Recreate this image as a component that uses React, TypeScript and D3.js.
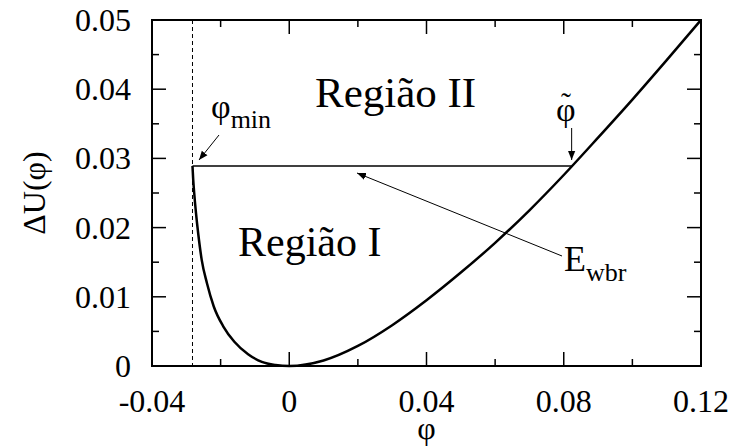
import { useEffect, useRef } from 'react'
import * as d3 from 'd3'

// ΔU(φ) curve
const PHI = [-0.0282, -0.028, -0.0277, -0.0272, -0.0265, -0.0255, -0.024, -0.022, -0.0192, -0.016, -0.012, -0.008, -0.004, 0,
  0.01, 0.02, 0.03, 0.04, 0.05, 0.06, 0.07, 0.08, 0.09, 0.1, 0.11, 0.12]
const DU = [0.0289, 0.027, 0.025, 0.0222, 0.019, 0.0153, 0.012, 0.0086, 0.0057, 0.0035, 0.0017, 0.0006, 0.00015, 0,
  0.0008, 0.0029, 0.0059, 0.0095, 0.0135, 0.0178, 0.0225, 0.0276, 0.033, 0.0385, 0.0442, 0.05]

const PHI_MIN = -0.0282
const PHI_TILDE = 0.0823
const E_WBR = 0.0289

const X_TICKS = [-0.04, 0, 0.04, 0.08, 0.12]
const X_MINOR = [-0.02, 0.02, 0.06, 0.1]
const Y_TICKS = [0, 0.01, 0.02, 0.03, 0.04, 0.05]
const Y_MINOR = [0.005, 0.015, 0.025, 0.035, 0.045]

const FONT = "'Liberation Serif', 'DejaVu Serif', serif"

export default function App() {
  const svgRef = useRef<SVGSVGElement>(null)

  useEffect(() => {
    const svg = d3.select(svgRef.current)
    svg.selectAll('*').remove()

    const margin = { top: 20, right: 35, bottom: 82, left: 152 }
    const W = 736 - margin.left - margin.right
    const H = 448 - margin.top - margin.bottom

    const x = d3.scaleLinear().domain([-0.04, 0.12]).range([0, W])
    const y = d3.scaleLinear().domain([0, 0.05]).range([H, 0])

    const defs = svg.append('defs')
    defs.append('marker').attr('id', 'ah').attr('viewBox', '0 0 10 10')
      .attr('refX', 10).attr('refY', 5).attr('markerWidth', 9).attr('markerHeight', 9)
      .attr('markerUnits', 'userSpaceOnUse').attr('orient', 'auto')
      .append('path').attr('d', 'M0,1 L10,5 L0,9 Z').attr('fill', '#000')

    const g = svg.append('g').attr('transform', `translate(${margin.left},${margin.top})`)

    // ticks, inward on all four sides
    const tick = (sel: any) => sel.attr('stroke', '#000').attr('stroke-width', 1.5)
    X_TICKS.concat(X_MINOR).forEach(v => {
      const len = X_TICKS.includes(v) ? 14 : 7
      tick(g.append('line').attr('x1', x(v)).attr('x2', x(v)).attr('y1', H).attr('y2', H - len))
      tick(g.append('line').attr('x1', x(v)).attr('x2', x(v)).attr('y1', 0).attr('y2', len))
    })
    Y_TICKS.concat(Y_MINOR).forEach(v => {
      const len = Y_TICKS.includes(v) ? 14 : 7
      tick(g.append('line').attr('y1', y(v)).attr('y2', y(v)).attr('x1', 0).attr('x2', len))
      tick(g.append('line').attr('y1', y(v)).attr('y2', y(v)).attr('x1', W).attr('x2', W - len))
    })

    g.append('rect').attr('width', W).attr('height', H)
      .attr('fill', 'none').attr('stroke', '#000').attr('stroke-width', 2)

    // tick labels
    g.selectAll('.xl').data(X_TICKS).join('text')
      .attr('x', d => x(d)).attr('y', H + 46)
      .attr('text-anchor', 'middle').attr('font-size', 32).style('font-family', FONT)
      .text(d => d === 0 ? '0' : String(d))
    g.selectAll('.yl').data(Y_TICKS).join('text')
      .attr('x', -21).attr('y', d => y(d) + 11)
      .attr('text-anchor', 'end').attr('font-size', 32).style('font-family', FONT)
      .text(d => d === 0 ? '0' : d.toFixed(2))

    // axis titles
    g.append('text').attr('x', W / 2).attr('y', H + 73).style('font-family', FONT)
      .attr('text-anchor', 'middle').attr('font-size', 32).text('φ')
    g.append('text').attr('transform', `translate(${-107},${H / 2}) rotate(-90)`).style('font-family', FONT)
      .attr('text-anchor', 'middle').attr('font-size', 32).text('ΔU(φ)')

    // dashed φ_min line
    g.append('line').attr('x1', x(PHI_MIN)).attr('x2', x(PHI_MIN)).attr('y1', 0).attr('y2', H)
      .attr('stroke', '#000').attr('stroke-width', 1).attr('stroke-dasharray', '4,3')

    // E_wbr level
    g.append('line').attr('x1', x(PHI_MIN)).attr('x2', x(PHI_TILDE)).attr('y1', y(E_WBR)).attr('y2', y(E_WBR))
      .attr('stroke', '#000').attr('stroke-width', 1.5)

    const line = d3.line<number>().x((_, i) => x(PHI[i])).y(d => y(d)).curve(d3.curveMonotoneX)
    g.append('path').datum(DU).attr('d', line)
      .attr('fill', 'none').attr('stroke', '#000').attr('stroke-width', 2.5)

    // labels
    const txt = (px: number, py: number, s: string, size = 32) =>
      g.append('text').attr('x', px - margin.left).attr('y', py - margin.top)
        .style('font-family', FONT).attr('font-size', size).text(s)
    txt(315, 107, 'Região II', 43)
    txt(238, 256, 'Região I', 42)

    const pm = g.append('text').attr('x', 211 - margin.left).attr('y', 118 - margin.top).style('font-family', FONT)
    pm.append('tspan').attr('font-size', 34).text('φ')
    pm.append('tspan').attr('font-size', 26).attr('dy', 10).text('min')

    // φ with tilde above
    const pt = g.append('text').style('font-family', FONT)
    pt.append('tspan').attr('x', 556 - margin.left).attr('y', 121 - margin.top).attr('font-size', 34).text('φ')
    pt.append('tspan').attr('x', 561 - margin.left).attr('y', 113 - margin.top).attr('font-size', 30).text('˜')

    const ew = g.append('text').attr('x', 564 - margin.left).attr('y', 271 - margin.top).style('font-family', FONT)
    ew.append('tspan').attr('font-size', 36).text('E')
    ew.append('tspan').attr('font-size', 26).attr('dy', 10).text('wbr')

    // arrows
    const arrow = (x1: number, y1: number, x2: number, y2: number) =>
      g.append('line').attr('x1', x1 - margin.left).attr('y1', y1 - margin.top)
        .attr('x2', x2 - margin.left).attr('y2', y2 - margin.top)
        .attr('stroke', '#000').attr('stroke-width', 1).attr('marker-end', 'url(#ah)')
    arrow(219, 135, 199, 160)
    arrow(x(PHI_TILDE) + margin.left, 128, x(PHI_TILDE) + margin.left, 160)
    arrow(562, 256, 357, 173)
  }, [])

  return (
    <svg ref={svgRef} width={736} height={448}
      style={{ position: 'absolute', left: 0, top: 0, background: '#fff' }} />
  )
}
